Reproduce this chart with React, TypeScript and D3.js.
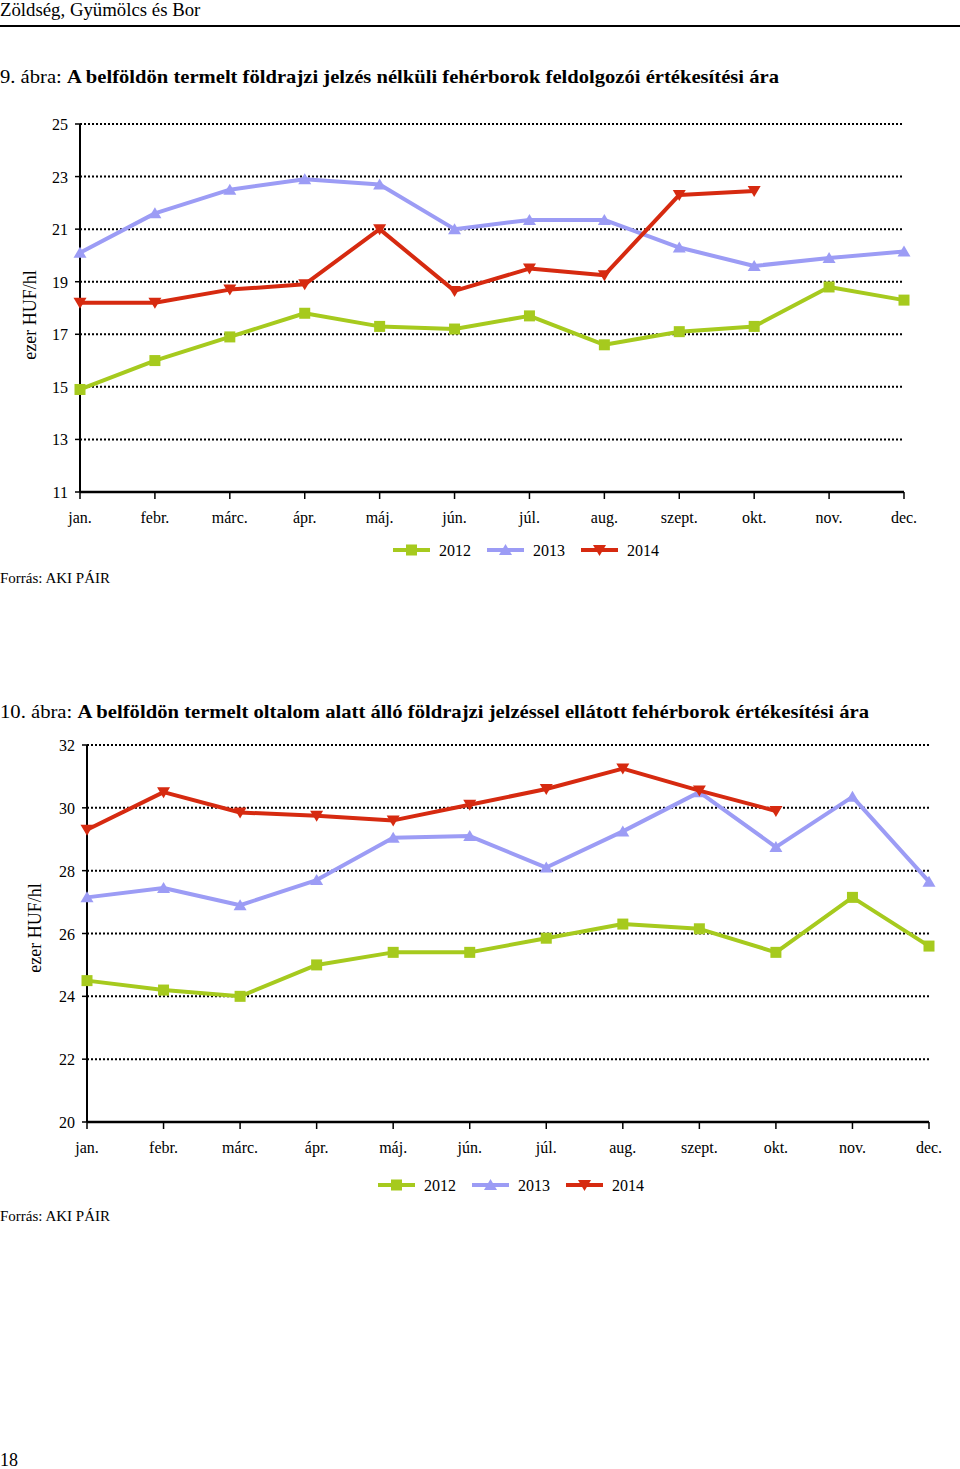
import React from "react";
import * as d3 from "d3";

const months = ["jan.", "febr.", "márc.", "ápr.", "máj.", "jún.", "júl.", "aug.", "szept.", "okt.", "nov.", "dec."];
const years = ["2012", "2013", "2014"];

const c1_2012 = [14.9, 16.0, 16.9, 17.8, 17.3, 17.2, 17.7, 16.6, 17.1, 17.3, 18.8, 18.3];
const c1_2013 = [20.1, 21.6, 22.5, 22.9, 22.7, 21.0, 21.35, 21.35, 20.3, 19.6, 19.9, 20.15];
const c1_2014 = [18.2, 18.2, 18.7, 18.9, 21.0, 18.65, 19.5, 19.25, 22.3, 22.45, null, null];
const c1_ticks = [11, 13, 15, 17, 19, 21, 23, 25];

const c2_2012 = [24.5, 24.2, 24.0, 25.0, 25.4, 25.4, 25.85, 26.3, 26.15, 25.4, 27.15, 25.6];
const c2_2013 = [27.15, 27.45, 26.9, 27.7, 29.05, 29.1, 28.1, 29.25, 30.5, 28.75, 30.35, 27.65];
const c2_2014 = [29.3, 30.5, 29.85, 29.75, 29.6, 30.1, 30.6, 31.25, 30.55, 29.9, null, null];
const c2_ticks = [20, 22, 24, 26, 28, 30, 32];

const colors = ["#a6ca1e", "#9c9cf5", "#d62a10"];
const FONT = "'Liberation Serif', 'Times New Roman', serif";

function Marker({ kind, x, y, color }: { kind: number; x: number; y: number; color: string }) {
  if (kind === 0) return <rect x={x - 5.5} y={y - 5.5} width={11} height={11} fill={color} />;
  if (kind === 1) return <path d={`M${x},${y - 6} L${x + 6.5},${y + 5} L${x - 6.5},${y + 5} Z`} fill={color} />;
  return <path d={`M${x},${y + 6} L${x + 6.5},${y - 5} L${x - 6.5},${y - 5} Z`} fill={color} />;
}

function Chart({ series, ticks, x0, x1, yTop, yBot, gridEnd, labelX, axisLabelX, axisLabelY, legendY, legendX, monthY }: any) {
  const x = d3.scalePoint<string>().domain(months).range([x0, x1]);
  const y = d3.scaleLinear().domain([ticks[0], ticks[ticks.length - 1]]).range([yBot, yTop]);
  const line = d3
    .line<number | null>()
    .defined((d) => d != null)
    .x((_, i) => x(months[i]) as number)
    .y((d) => y(d as number));
  return (
    <g>
      {ticks.map((t: number) => (
        <g key={t}>
          {t !== ticks[0] && (
            <line x1={x0} x2={gridEnd} y1={y(t)} y2={y(t)} stroke="#000" strokeWidth={2} strokeDasharray="2,2" />
          )}
          <line x1={x0 - 5} x2={x0} y1={y(t)} y2={y(t)} stroke="#000" strokeWidth={1.5} />
          <text x={labelX} y={y(t) + 6} textAnchor="end" fontSize={16} fontFamily={FONT}>
            {t}
          </text>
        </g>
      ))}
      <line x1={x0} x2={x0} y1={yTop} y2={yBot} stroke="#000" strokeWidth={2} />
      <line x1={x0} x2={x1} y1={yBot} y2={yBot} stroke="#000" strokeWidth={2.5} />
      {months.map((m) => (
        <g key={m}>
          <line x1={x(m)} x2={x(m)} y1={yBot} y2={yBot + 7} stroke="#000" strokeWidth={1.5} />
          <text x={x(m)} y={monthY} textAnchor="middle" fontSize={16} fontFamily={FONT}>
            {m}
          </text>
        </g>
      ))}
      <text
        transform={`translate(${axisLabelX},${axisLabelY}) rotate(-90)`}
        textAnchor="middle"
        fontSize={18}
        fontFamily={FONT}
      >
        ezer HUF/hl
      </text>
      {series.map((s: (number | null)[], k: number) => (
        <g key={k}>
          <path d={line(s) || ""} fill="none" stroke={colors[k]} strokeWidth={4} strokeLinejoin="round" />
          {s.map((v, i) =>
            v == null ? null : <Marker key={i} kind={k} x={x(months[i]) as number} y={y(v)} color={colors[k]} />
          )}
        </g>
      ))}
      {years.map((yr, k) => {
        const lx = legendX + k * 94;
        return (
          <g key={yr}>
            <line x1={lx} x2={lx + 37} y1={legendY} y2={legendY} stroke={colors[k]} strokeWidth={4} />
            <Marker kind={k} x={lx + 18.5} y={legendY} color={colors[k]} />
            <text x={lx + 46} y={legendY + 6} fontSize={16} fontFamily={FONT}>
              {yr}
            </text>
          </g>
        );
      })}
    </g>
  );
}

export default function App() {
  return (
    <svg
      width={960}
      height={1469}
      style={{ position: "absolute", left: 0, top: 0, background: "#fff" }}
      fontFamily={FONT}
    >
      <rect width={960} height={1469} fill="#fff" />
      <text x={0} y={16} fontSize={18.8} fontFamily={FONT}>
        Zöldség, Gyümölcs és Bor
      </text>
      <line x1={0} x2={960} y1={26} y2={26} stroke="#000" strokeWidth={2} />
      <text x={0} y={83} fontSize={19} fontFamily={FONT} textLength={779} lengthAdjust="spacingAndGlyphs">
        9. ábra: <tspan fontWeight="bold">A belföldön termelt földrajzi jelzés nélküli fehérborok feldolgozói értékesítési ára</tspan>
      </text>
      <Chart
        series={[c1_2012, c1_2013, c1_2014]}
        ticks={c1_ticks}
        x0={80}
        x1={904}
        yTop={124}
        yBot={492}
        gridEnd={904}
        labelX={68}
        axisLabelX={36}
        axisLabelY={315}
        legendY={550}
        legendX={393}
        monthY={523}
      />
      <text x={0} y={583} fontSize={15} fontFamily={FONT}>
        Forrás: AKI PÁIR
      </text>
      <text x={0} y={718} fontSize={19} fontFamily={FONT} textLength={869} lengthAdjust="spacingAndGlyphs">
        10. ábra: <tspan fontWeight="bold">A belföldön termelt oltalom alatt álló földrajzi jelzéssel ellátott fehérborok értékesítési ára</tspan>
      </text>
      <Chart
        series={[c2_2012, c2_2013, c2_2014]}
        ticks={c2_ticks}
        x0={87}
        x1={929}
        yTop={745}
        yBot={1122}
        gridEnd={929}
        labelX={75}
        axisLabelX={41}
        axisLabelY={928}
        legendY={1185}
        legendX={378}
        monthY={1153}
      />
      <text x={0} y={1221} fontSize={15} fontFamily={FONT}>
        Forrás: AKI PÁIR
      </text>
      <text x={0} y={1466} fontSize={18} fontFamily={FONT}>
        18
      </text>
    </svg>
  );
}
